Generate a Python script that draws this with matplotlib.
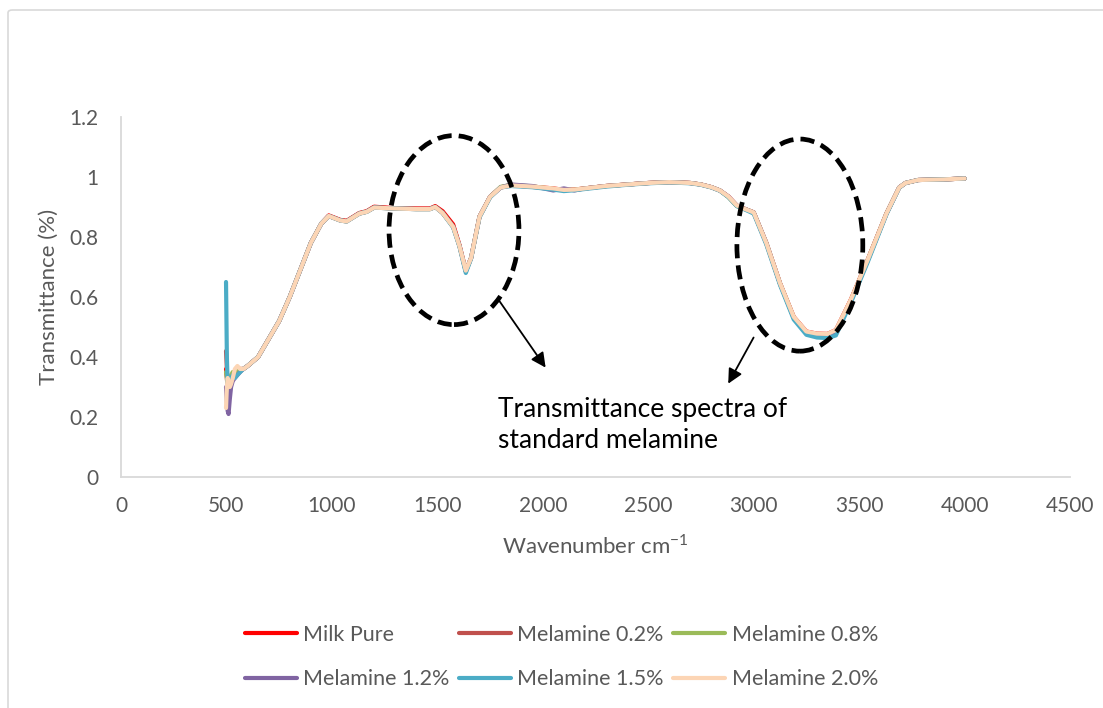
import numpy as np
import matplotlib
matplotlib.use("Agg")
import matplotlib.pyplot as plt
from matplotlib.patches import Ellipse, FancyBboxPatch

plt.rcParams['font.family'] = ['Lato', 'DejaVu Sans']

# wavenumber grid (cm-1), shared by all spectra
wave = [498, 502, 506, 510, 516, 522, 530, 540, 552, 565,
        580, 600, 650, 700, 750, 800, 850, 900, 950, 985,
        1040, 1070, 1100, 1130, 1165, 1200, 1300, 1400, 1465, 1490,
        1525, 1575, 1605, 1635, 1660, 1700, 1750, 1800, 1850, 1950,
        2050, 2100, 2150, 2200, 2300, 2400, 2500, 2600, 2700, 2750,
        2800, 2840, 2880, 2920, 2960, 3000, 3060, 3125, 3190, 3250,
        3300, 3350, 3390, 3460, 3540, 3630, 3690, 3720, 3780, 3900, 4000]

milk_pure = [0.36, 0.33, 0.29, 0.30, 0.31, 0.33, 0.34, 0.35, 0.36, 0.36,
             0.36, 0.37, 0.40, 0.46, 0.52, 0.60, 0.69, 0.78, 0.845, 0.872,
             0.857, 0.854, 0.867, 0.880, 0.886, 0.901, 0.896, 0.895, 0.895, 0.903,
             0.886, 0.842, 0.773, 0.688, 0.73, 0.868, 0.934, 0.965, 0.972, 0.968,
             0.962, 0.957, 0.958, 0.962, 0.97, 0.975, 0.98, 0.983, 0.98, 0.975,
             0.966, 0.955, 0.935, 0.905, 0.893, 0.882, 0.78, 0.646, 0.534, 0.485,
             0.478, 0.477, 0.49, 0.59, 0.723, 0.879, 0.965, 0.98, 0.99, 0.992, 0.995]

mel_02 = [0.42, 0.36, 0.29, 0.27, 0.31, 0.33, 0.34, 0.35, 0.35, 0.36,
          0.36, 0.37, 0.40, 0.46, 0.52, 0.60, 0.69, 0.78, 0.845, 0.870,
          0.856, 0.853, 0.866, 0.879, 0.885, 0.899, 0.895, 0.894, 0.894, 0.901,
          0.882, 0.836, 0.771, 0.686, 0.73, 0.868, 0.934, 0.966, 0.973, 0.967,
          0.961, 0.956, 0.958, 0.962, 0.97, 0.975, 0.98, 0.983, 0.98, 0.975,
          0.966, 0.955, 0.935, 0.905, 0.893, 0.882, 0.78, 0.645, 0.532, 0.483,
          0.476, 0.475, 0.488, 0.588, 0.722, 0.879, 0.965, 0.98, 0.99, 0.992, 0.995]

mel_08 = [0.35, 0.33, 0.30, 0.28, 0.32, 0.34, 0.35, 0.35, 0.36, 0.36,
          0.36, 0.37, 0.40, 0.46, 0.52, 0.60, 0.69, 0.78, 0.845, 0.870,
          0.855, 0.852, 0.865, 0.878, 0.884, 0.898, 0.895, 0.893, 0.893, 0.900,
          0.880, 0.834, 0.770, 0.686, 0.73, 0.868, 0.934, 0.967, 0.974, 0.969,
          0.960, 0.958, 0.957, 0.962, 0.97, 0.975, 0.98, 0.983, 0.98, 0.975,
          0.966, 0.955, 0.933, 0.903, 0.893, 0.882, 0.78, 0.645, 0.532, 0.482,
          0.475, 0.474, 0.487, 0.587, 0.722, 0.879, 0.965, 0.98, 0.99, 0.992, 0.995]

mel_12 = [0.30, 0.25, 0.22, 0.21, 0.26, 0.30, 0.32, 0.33, 0.34, 0.35,
          0.36, 0.37, 0.40, 0.46, 0.52, 0.60, 0.69, 0.78, 0.845, 0.870,
          0.855, 0.852, 0.865, 0.878, 0.884, 0.898, 0.895, 0.893, 0.893, 0.900,
          0.880, 0.834, 0.770, 0.685, 0.73, 0.868, 0.934, 0.965, 0.975, 0.970,
          0.955, 0.962, 0.955, 0.962, 0.97, 0.975, 0.98, 0.983, 0.98, 0.975,
          0.966, 0.955, 0.935, 0.905, 0.893, 0.882, 0.78, 0.644, 0.530, 0.480,
          0.472, 0.470, 0.484, 0.585, 0.720, 0.878, 0.965, 0.98, 0.99, 0.992, 0.995]

mel_15 = [0.65, 0.40, 0.30, 0.33, 0.32, 0.33, 0.34, 0.33, 0.34, 0.35,
          0.36, 0.37, 0.40, 0.46, 0.52, 0.60, 0.69, 0.78, 0.845, 0.870,
          0.855, 0.852, 0.865, 0.878, 0.884, 0.898, 0.895, 0.893, 0.893, 0.900,
          0.880, 0.832, 0.768, 0.680, 0.728, 0.866, 0.932, 0.965, 0.970, 0.966,
          0.958, 0.953, 0.956, 0.960, 0.968, 0.974, 0.979, 0.982, 0.979, 0.974,
          0.965, 0.954, 0.933, 0.903, 0.891, 0.878, 0.775, 0.640, 0.525, 0.474,
          0.465, 0.463, 0.472, 0.580, 0.715, 0.876, 0.964, 0.98, 0.99, 0.992, 0.995]

mel_20 = [0.23, 0.30, 0.33, 0.31, 0.30, 0.31, 0.33, 0.36, 0.37, 0.36,
          0.36, 0.37, 0.40, 0.46, 0.52, 0.60, 0.69, 0.78, 0.845, 0.870,
          0.855, 0.852, 0.865, 0.878, 0.884, 0.898, 0.895, 0.893, 0.893, 0.900,
          0.880, 0.834, 0.770, 0.688, 0.73, 0.868, 0.934, 0.965, 0.972, 0.968,
          0.962, 0.957, 0.958, 0.962, 0.97, 0.975, 0.98, 0.983, 0.98, 0.975,
          0.966, 0.955, 0.935, 0.905, 0.893, 0.882, 0.78, 0.646, 0.534, 0.485,
          0.478, 0.477, 0.49, 0.59, 0.723, 0.879, 0.965, 0.98, 0.99, 0.992, 0.995]

labels = ['Milk Pure', 'Melamine 0.2%', 'Melamine 0.8%',
          'Melamine 1.2%', 'Melamine 1.5%', 'Melamine 2.0%']
series = [milk_pure, mel_02, mel_08, mel_12, mel_15, mel_20]
colors = ['#FF0000', '#C0504D', '#9BBB59', '#8064A2', '#4BACC6', '#FCD5B5']

xticks = [0, 500, 1000, 1500, 2000, 2500, 3000, 3500, 4000, 4500]
yticks = [0, 0.2, 0.4, 0.6, 0.8, 1, 1.2]
ytick_labels = ['0', '0.2', '0.4', '0.6', '0.8', '1', '1.2']

grey = '#595959'
fig = plt.figure(figsize=(11.03, 7.08), dpi=100)
ax = fig.add_axes([121/1103, 1 - 477/708, 949/1103, 360/708])

handles = []
for vals, lab, col in zip(series, labels, colors):
    h, = ax.plot(wave, vals, color=col, lw=3.0, label=lab, solid_capstyle='round')
    handles.append(h)

ax.set_xlim(0, 4500)
ax.set_ylim(0, 1.2)
ax.set_xticks(xticks)
ax.set_yticks(yticks)
ax.set_yticklabels(ytick_labels)
ax.tick_params(axis='y', length=0, labelsize=15, labelcolor=grey, pad=16)
ax.tick_params(axis='x', length=0, labelsize=15, labelcolor=grey, pad=14)
for s in ['top', 'right']:
    ax.spines[s].set_visible(False)
for s in ['left', 'bottom']:
    ax.spines[s].set_color('#D9D9D9')
    ax.spines[s].set_linewidth(1.3)

ax.set_ylabel('Transmittance (%)', fontsize=16, color=grey, labelpad=8)
ax.set_xlabel('Wavenumber cm$^{\\mathregular{-1}}$', fontsize=16, color=grey, labelpad=12)

# dashed ellipses marking the melamine bands
for cx, cy, w, h in [(1579, 0.823, 616, 0.63), (3219, 0.773, 597, 0.707)]:
    ax.add_patch(Ellipse((cx, cy), w, h, fill=False, ec='black', lw=3.4,
                         ls=(0, (3.0, 1.5)), clip_on=False, zorder=5))

ax.annotate('', xy=(2021, 0.357), xytext=(1784, 0.597),
            arrowprops=dict(arrowstyle='-|>', color='black', lw=1.3,
                            mutation_scale=22), annotation_clip=False)
ax.annotate('', xy=(2873, 0.303), xytext=(3006, 0.473),
            arrowprops=dict(arrowstyle='-|>', color='black', lw=1.3,
                            mutation_scale=22), annotation_clip=False)
ax.text(1787, 0.267, 'Transmittance spectra of\nstandard melamine', fontsize=19,
        color='black', va='top', ha='left', linespacing=1.3)

# chart border
fig.patches.append(FancyBboxPatch((8/1103, -0.05), 1.2, 1 - 10/708 + 0.05,
                                  boxstyle='round,pad=0,rounding_size=0.004',
                                  transform=fig.transFigure, fill=False,
                                  ec='#D9D9D9', lw=1.2))

order = [0, 3, 1, 4, 2, 5]
fig.legend([handles[i] for i in order], [labels[i] for i in order],
           loc='center', bbox_to_anchor=(0.509, 0.072), ncol=3, frameon=False,
           fontsize=15.5, labelcolor=grey, handlelength=2.4, handletextpad=0.3,
           columnspacing=0.45, labelspacing=1.15)

fig.savefig('out.png', dpi=100)
